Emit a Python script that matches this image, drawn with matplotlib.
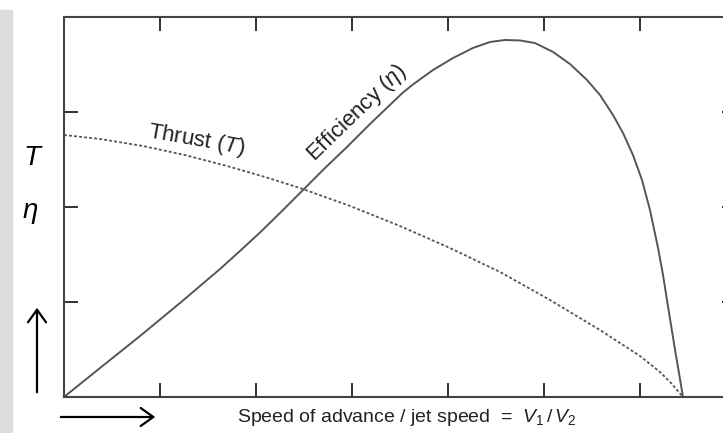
import matplotlib
matplotlib.use("Agg")
import matplotlib.pyplot as plt
from matplotlib.patches import Rectangle, FancyArrowPatch

plt.rcParams["font.family"] = ["Liberation Sans", "DejaVu Sans"]
plt.rcParams["mathtext.fontset"] = "custom"
plt.rcParams["mathtext.rm"] = "Liberation Sans"
plt.rcParams["mathtext.it"] = "Liberation Sans:italic"

# ── data (x: V1/V2 in tick units, y: in tick units) ──
eff_x = [0.0, 0.375, 0.792, 1.208, 1.625, 1.833, 2.042, 2.260, 2.490, 2.719, 2.948,
         3.188, 3.427, 3.531, 3.635, 3.844, 4.052, 4.260, 4.438, 4.594, 4.750,
         4.906, 5.094, 5.271, 5.448, 5.583, 5.719, 5.823, 5.927, 6.021, 6.104,
         6.188, 6.240, 6.281, 6.323, 6.365, 6.406, 6.448]
eff_y = [0.0, 0.305, 0.642, 0.989, 1.347, 1.537, 1.732, 1.947, 2.179, 2.411, 2.632,
         2.874, 3.105, 3.205, 3.290, 3.442, 3.568, 3.674, 3.737, 3.758, 3.753,
         3.726, 3.632, 3.505, 3.337, 3.179, 2.968, 2.779, 2.547, 2.284, 1.968,
         1.568, 1.284, 1.021, 0.758, 0.495, 0.253, 0.0]

thr_x = [0.0, 0.375, 0.823, 1.260, 1.698, 2.094, 2.458, 2.979, 3.500, 4.021,
         4.542, 5.063, 5.583, 6.000, 6.208, 6.333, 6.448]
thr_y = [2.758, 2.716, 2.642, 2.547, 2.432, 2.316, 2.200, 2.011, 1.800, 1.568,
         1.316, 1.021, 0.705, 0.432, 0.263, 0.137, 0.0]

x_ticks = [1, 2, 3, 4, 5, 6]
y_ticks = [1, 2, 3]

W, H = 723, 433
fig = plt.figure(figsize=(W / 100, H / 100), dpi=100)

# light grey band on the left edge
fig.patches.append(Rectangle((0, 0), 12 / W, 423 / H, transform=fig.transFigure,
                             color="#dcdcdc", zorder=0))

ax = fig.add_axes([64 / W, 36 / H, (736 - 64) / W, 380 / H])
ax.plot(eff_x, eff_y, color="#555555", lw=1.4, solid_joinstyle="round")
ax.plot(thr_x, thr_y, color="#555555", lw=1.3, linestyle=(0, (1.6, 1.2)))

ax.set_xlim(0, 7)
ax.set_ylim(0, 4)
ax.set_xticks(x_ticks)
ax.set_yticks(y_ticks)
ax.tick_params(direction="in", length=10, width=1.4, color="#333333",
               top=True, right=True, labelbottom=False, labelleft=False)
for s in ax.spines.values():
    s.set_color("#444444")
    s.set_linewidth(1.5)

ax.text(1.385, 2.70, "Thrust ($T$)", rotation=-10, fontsize=16,
        ha="center", va="center", color="#222222")
ax.text(3.05, 2.99, r"Efficiency ($\eta$)", rotation=44, fontsize=16,
        ha="center", va="center", color="#222222")

# axis labels and arrows
fig.text(33 / W, 1 - 158 / H, "$T$", fontsize=20, ha="center", va="center")
fig.text(30 / W, 1 - 213 / H, r"$\eta$", fontsize=20, ha="center", va="center")
fig.text(407 / W, 1 - 418 / H, r"Speed of advance / jet speed  =  $V_1\,/\,V_2$",
         fontsize=14, ha="center", va="center", color="#222222")

fig.patches.append(FancyArrowPatch((37 / W, 1 - 395 / H), (37 / W, 1 - 305 / H),
                                   transform=fig.transFigure, arrowstyle="->,head_length=7,head_width=5",
                                   lw=1.6, color="black", mutation_scale=1.3))
fig.patches.append(FancyArrowPatch((58 / W, 1 - 417 / H), (158 / W, 1 - 417 / H),
                                   transform=fig.transFigure, arrowstyle="->,head_length=7,head_width=5",
                                   lw=1.6, color="black", mutation_scale=1.3))

fig.savefig("out.png", dpi=100)
